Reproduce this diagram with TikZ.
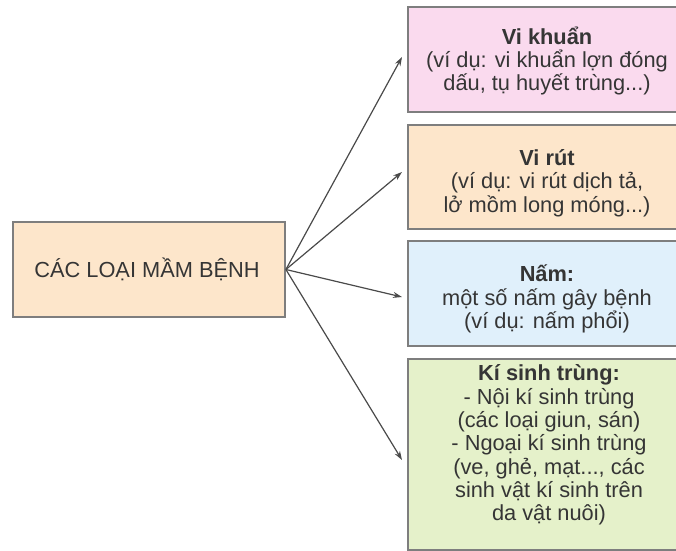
\documentclass[tikz,border=0pt]{standalone}
\usepackage{fontspec}
\setmainfont{Liberation Sans}
\usetikzlibrary{arrows.meta}
\definecolor{edgegrey}{HTML}{7E7E7E}
\definecolor{txtgrey}{HTML}{353535}
\definecolor{peach}{HTML}{FDE6CB}
\definecolor{pinkfill}{HTML}{FADAEE}
\definecolor{bluefill}{HTML}{E0F0FB}
\definecolor{greenfill}{HTML}{E5F1CA}
\definecolor{arrgrey}{HTML}{4A4A4A}
\tikzset{
  boxa/.style={draw=edgegrey, line width=1.8pt, fill=#1, rectangle, inner sep=0pt},
  txt/.style={text=txtgrey, align=center, font=\fontsize{21.8}{23.3}\selectfont, inner sep=0pt},
  arr/.style={draw=arrgrey, line width=1.2pt, -{Stealth[length=9pt,width=6pt]}}
}
\begin{document}
\begin{tikzpicture}[x=1pt,y=-1pt]
\useasboundingbox (0,0) rectangle (676,550);
\clip (0,0) rectangle (676,550);
\fill[white] (0,0) rectangle (676,550);
% left box
\node[boxa=peach, minimum width=272pt, minimum height=95pt] (L) at (149,269.5) {};
\node[txt] (Lt) at (147,269) {CÁC LOẠI MẦM BỆNH};
% right boxes (extend past the right edge)
\node[boxa=pinkfill, anchor=north west, minimum width=280pt, minimum height=105pt] (b1) at (407,6) {};
\node[txt] (t1) at (547,61) {\textbf{Vi khuẩn}\\(ví dụ: vi khuẩn lợn đóng\\dấu, tụ huyết trùng...)};
\node[boxa=peach, anchor=north west, minimum width=280pt, minimum height=104pt] (b2) at (407,124) {};
\node[txt] (t2) at (547,183) {\textbf{Vi rút}\\(ví dụ: vi rút dịch tả,\\lở mồm long móng...)};
\node[boxa=bluefill, anchor=north west, minimum width=280pt, minimum height=105pt] (b3) at (407,240) {};
\node[txt] (t3) at (547,299) {\textbf{Nấm:}\\một số nấm gây bệnh\\(ví dụ: nấm phổi)};
\node[boxa=greenfill, anchor=north west, minimum width=280pt, minimum height=191pt] (b4) at (407,358) {};
\node[txt] (t4) at (549,445) {\textbf{Kí sinh trùng:}\\- Nội kí sinh trùng\\(các loại giun, sán)\\- Ngoại kí sinh trùng\\(ve, ghẻ, mạt..., các\\sinh vật kí sinh trên\\da vật nuôi)};
% arrow tips
\coordinate (p1) at (402,57);
\coordinate (p2) at (402,172);
\coordinate (p3) at (402,297);
\coordinate (p4) at (402,460);
\draw[arr] (L.east) -- (p1);
\draw[arr] (L.east) -- (p2);
\draw[arr] (L.east) -- (p3);
\draw[arr] (L.east) -- (p4);
\end{tikzpicture}
\end{document}
